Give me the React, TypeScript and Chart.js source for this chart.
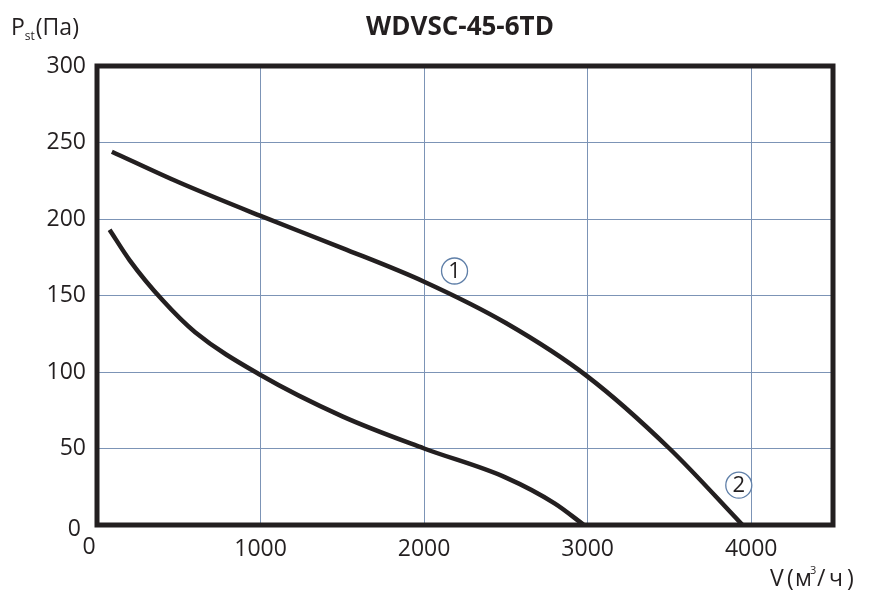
import React, { useEffect, useRef } from "react";
import { Chart, registerables } from "chart.js";

Chart.register(...registerables);

const chartTitle = "WDVSC-45-6TD";
const xTicks = [0, 1000, 2000, 3000, 4000];
const yTicks = [0, 50, 100, 150, 200, 250, 300];

const curve1X = [91, 500, 1000, 1500, 2000, 2500, 3000, 3500, 3947];
const curve1Y = [244, 224, 202, 181, 159, 132, 97, 50, 0];

const curve2X = [77, 200, 400, 600, 1000, 1500, 2000, 2500, 2800, 2977];
const curve2Y = [193, 173, 147, 126, 98, 71, 50, 31, 14, 0];

const markerLabels = ["1", "2"];
const markerX = [2186, 3924];
const markerY = [166, 26];

const FONT = '"Open Sans", "DejaVu Sans", sans-serif';
const INK = "#231f20";
const GRID = "#7c94b6";

const decorPlugin = {
  id: "decor",
  afterDatasetsDraw(chart: any) {
    const { ctx, chartArea, scales } = chart;
    const xs = scales.x;
    const ys = scales.y;
    ctx.save();
    ctx.strokeStyle = INK;
    ctx.lineWidth = 5;
    ctx.strokeRect(chartArea.left, chartArea.top, chartArea.right - chartArea.left, chartArea.bottom - chartArea.top);

    for (let i = 0; i < markerLabels.length; i++) {
      const cx = xs.getPixelForValue(markerX[i]);
      const cy = ys.getPixelForValue(markerY[i]);
      ctx.fillStyle = "#ffffff";
      ctx.beginPath();
      ctx.arc(cx, cy, 13, 0, Math.PI * 2);
      ctx.fill();
      ctx.strokeStyle = "#5f7fa8";
      ctx.lineWidth = 1.3;
      ctx.stroke();
      ctx.fillStyle = INK;
      ctx.font = `22px ${FONT}`;
      ctx.textAlign = "center";
      ctx.textBaseline = "middle";
      ctx.fillText(markerLabels[i], cx, cy + 1);
    }

    ctx.fillStyle = INK;
    ctx.font = `23px ${FONT}`;
    ctx.textAlign = "right";
    ctx.textBaseline = "middle";
    ctx.fillText(String(yTicks[0]), chartArea.left - 16, ys.getPixelForValue(0) + 4);
    ctx.textAlign = "center";
    ctx.textBaseline = "top";
    ctx.fillText(String(xTicks[0]), xs.getPixelForValue(0) - 8, chartArea.bottom + 11);

    ctx.font = `bold 26px ${FONT}`;
    ctx.textAlign = "center";
    ctx.textBaseline = "alphabetic";
    ctx.fillText(chartTitle, 460, 35);

    ctx.textAlign = "left";
    ctx.font = `23px ${FONT}`;
    let px = 11;
    ctx.fillText("P", px, 35);
    px += ctx.measureText("P").width;
    ctx.font = `12px ${FONT}`;
    ctx.fillText("st", px, 40);
    px += ctx.measureText("st").width + 1;
    ctx.font = `23px ${FONT}`;
    ctx.fillText("(Па)", px, 35);

    ctx.font = `23px ${FONT}`;
    const parts = [
      { t: "V", x: 770 },
      { t: "(", x: 787 },
      { t: "м", x: 795 },
      { t: "/", x: 817 },
      { t: "ч", x: 829 },
      { t: ")", x: 847 },
    ];
    for (const p of parts) ctx.fillText(p.t, p.x, 586);
    ctx.font = `11px ${FONT}`;
    ctx.fillText("3", 810, 574);
    ctx.restore();
  },
};

export default function App() {
  const ref = useRef<HTMLCanvasElement | null>(null);
  useEffect(() => {
    document.body.style.margin = "0";
    const canvas = ref.current;
    if (!canvas) return;
    const chart = new Chart(canvas, {
      type: "line",
      data: {
        datasets: [
          {
            label: "1",
            data: curve1X.map((x, i) => ({ x, y: curve1Y[i] })),
            borderColor: INK,
            borderWidth: 4.5,
            pointRadius: 0,
            cubicInterpolationMode: "monotone",
            fill: false,
          },
          {
            label: "2",
            data: curve2X.map((x, i) => ({ x, y: curve2Y[i] })),
            borderColor: INK,
            borderWidth: 4.5,
            pointRadius: 0,
            cubicInterpolationMode: "monotone",
            fill: false,
          },
        ],
      },
      options: {
        animation: false,
        responsive: false,
        maintainAspectRatio: false,
        layout: { padding: { left: 0, right: 43, top: 66, bottom: 0 } },
        plugins: {
          legend: { display: false },
          title: { display: false },
          tooltip: { enabled: false },
        },
        scales: {
          x: {
            type: "linear",
            min: 0,
            max: 4500,
            afterBuildTicks: (s: any) => {
              s.ticks = xTicks.map((v) => ({ value: v }));
            },
            afterFit: (s: any) => {
              s.height = 67;
            },
            ticks: {
              padding: 11,
              color: INK,
              font: { family: FONT, size: 23 },
              maxRotation: 0,
              callback: (v: any) => (v === 0 ? "" : String(v)),
            },
            grid: { color: GRID, lineWidth: 1, drawTicks: false },
            border: { display: false },
          },
          y: {
            type: "linear",
            min: 0,
            max: 300,
            afterBuildTicks: (s: any) => {
              s.ticks = yTicks.map((v) => ({ value: v }));
            },
            afterFit: (s: any) => {
              s.width = 97;
            },
            ticks: {
              padding: 11,
              color: INK,
              font: { family: FONT, size: 23 },
              callback: (v: any) => (v === 0 ? "" : String(v)),
            },
            grid: { color: GRID, lineWidth: 1, drawTicks: false },
            border: { display: false },
          },
        },
      },
      plugins: [decorPlugin],
    } as any);
    return () => chart.destroy();
  }, []);
  return (
    <div style={{ width: 876, height: 592, background: "#fff" }}>
      <canvas ref={ref} width={876} height={592} style={{ display: "block" }} />
    </div>
  );
}
